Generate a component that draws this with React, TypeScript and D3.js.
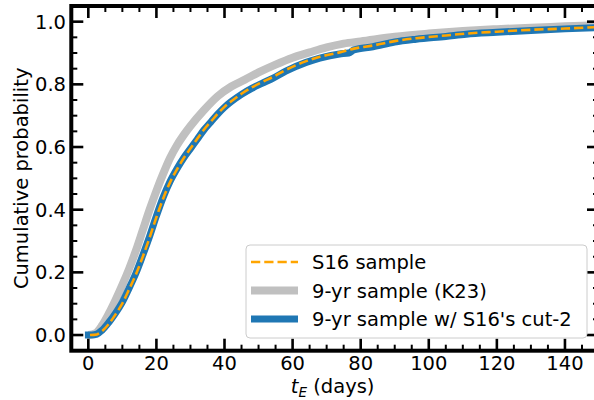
import React from "react";
import * as d3 from "d3";

// K23 9-yr sample (gray)
const grayT = [0, 2, 4, 6, 8, 10, 12, 14, 16, 18, 20, 22, 24, 26, 28, 30, 34, 38, 42, 46, 50, 55, 60, 65, 70, 75, 80, 90, 100, 110, 120, 130, 140, 150];
const grayP = [0, 0.005, 0.03, 0.068, 0.112, 0.16, 0.212, 0.27, 0.335, 0.4, 0.46, 0.515, 0.565, 0.605, 0.638, 0.667, 0.718, 0.762, 0.793, 0.815, 0.838, 0.863, 0.885, 0.902, 0.918, 0.93, 0.937, 0.952, 0.962, 0.97, 0.976, 0.981, 0.985, 0.989];

// 9-yr sample w/ S16's cut-2 (blue)
const blueT = [-1, 1, 2.5, 4, 6, 8, 10, 12, 14, 16, 18, 20, 22, 24, 26, 28, 30, 32, 34, 36, 38, 40, 42, 45, 48, 51, 54.3, 58, 64, 68, 73.8, 76.5, 78, 83.6, 90, 96.3, 105, 111, 120, 130, 140, 150];
const blueP = [0, 0, 0.003, 0.015, 0.04, 0.07, 0.105, 0.15, 0.198, 0.255, 0.315, 0.38, 0.44, 0.49, 0.53, 0.565, 0.595, 0.625, 0.655, 0.68, 0.705, 0.727, 0.745, 0.768, 0.787, 0.803, 0.82, 0.842, 0.87, 0.884, 0.897, 0.9, 0.91, 0.92, 0.935, 0.944, 0.953, 0.96, 0.966, 0.972, 0.977, 0.981];

// S16 sample (orange dashed)
const orangeT = [0.5, 2.5, 4, 6, 8, 10, 12, 14, 16, 18, 20, 22, 24, 26, 28, 30, 32, 34, 36, 38, 40, 42, 45, 48, 51, 54.3, 58, 64, 68, 73.8, 78, 83.6, 90, 96.3, 105, 111, 120, 130, 140, 150];
const orangeP = [0, 0.002, 0.012, 0.035, 0.066, 0.101, 0.146, 0.194, 0.25, 0.311, 0.376, 0.436, 0.487, 0.528, 0.564, 0.595, 0.626, 0.656, 0.681, 0.706, 0.728, 0.746, 0.77, 0.79, 0.807, 0.824, 0.846, 0.874, 0.888, 0.902, 0.914, 0.924, 0.938, 0.947, 0.956, 0.962, 0.968, 0.974, 0.978, 0.983];

const xMajor = [0, 20, 40, 60, 80, 100, 120, 140];
const yMajor = [0, 0.2, 0.4, 0.6, 0.8, 1.0];
const legendLabels = ["S16 sample", "9-yr sample (K23)", "9-yr sample w/ S16's cut-2"];

const W = 594, H = 400;
const x = d3.scaleLinear().domain([-5, 150]).range([71.3, 599]);
const y = d3.scaleLinear().domain([-0.05, 1.05]).range([350.7, 6]);

const FONT = "DejaVu Sans, sans-serif";
const FS = 19.5;

function mkLine(ts: number[], ps: number[]) {
  const pts = ts.map((t, i) => [t, ps[i]] as [number, number]);
  return d3.line<[number, number]>().x(d => x(d[0])).y(d => y(d[1])).curve(d3.curveMonotoneX)(pts) || "";
}

export default function App() {
  const [x0, x1] = x.range();
  const [y0, y1] = y.range();
  const xMinor = d3.range(-5, 151, 5).filter(v => v % 20 !== 0);
  const yMinor = d3.range(-0.05, 1.0501, 0.05).map(v => Math.round(v * 100) / 100).filter(v => Math.round(v * 100) % 20 !== 0);
  const majL = 12, minL = 6;
  const legendRows = [262, 290.5, 319];
  return (
    <svg width={W} height={H} style={{ position: "absolute", left: 0, top: 0, background: "#fff" }} fontFamily={FONT}>
      <defs>
        <clipPath id="plot"><rect x={x0} y={y1} width={x1 - x0} height={y0 - y1} /></clipPath>
      </defs>
      <g clipPath="url(#plot)" fill="none">
        <path d={mkLine(grayT, grayP)} stroke="#c0c0c0" strokeWidth={8} strokeLinejoin="round" />
        <path d={mkLine(blueT, blueP)} stroke="#1f77b4" strokeWidth={7} strokeLinejoin="round" />
        <path d={mkLine(orangeT, orangeP)} stroke="#ffa500" strokeWidth={2.6} strokeDasharray="9.25,4" />
      </g>
      {/* ticks */}
      <g stroke="#000">
        {xMajor.map(v => (
          <g key={"xm" + v} strokeWidth={2.6}>
            <line x1={x(v)} x2={x(v)} y1={y0} y2={y0 - majL} />
            <line x1={x(v)} x2={x(v)} y1={y1} y2={y1 + majL} />
          </g>
        ))}
        {xMinor.map(v => (
          <g key={"xn" + v} strokeWidth={2}>
            <line x1={x(v)} x2={x(v)} y1={y0} y2={y0 - minL} />
            <line x1={x(v)} x2={x(v)} y1={y1} y2={y1 + minL} />
          </g>
        ))}
        {yMajor.map(v => (
          <g key={"ym" + v} strokeWidth={2.6}>
            <line x1={x0} x2={x0 + majL} y1={y(v)} y2={y(v)} />
            <line x1={x1} x2={x1 - majL} y1={y(v)} y2={y(v)} />
          </g>
        ))}
        {yMinor.map(v => (
          <g key={"yn" + v} strokeWidth={2}>
            <line x1={x0} x2={x0 + minL} y1={y(v)} y2={y(v)} />
            <line x1={x1} x2={x1 - minL} y1={y(v)} y2={y(v)} />
          </g>
        ))}
        <rect x={x0} y={y1} width={x1 - x0} height={y0 - y1} fill="none" strokeWidth={4} />
      </g>
      {/* tick labels */}
      <g fontSize={FS} fill="#000">
        {xMajor.map(v => (
          <text key={"xl" + v} x={x(v)} y={370} textAnchor="middle">{v}</text>
        ))}
        {yMajor.map(v => (
          <text key={"yl" + v} x={66} y={y(v) + 7} textAnchor="end">{v.toFixed(1)}</text>
        ))}
      </g>
      <text x={28} y={(y0 + y1) / 2} fontSize={FS} textAnchor="middle" transform={`rotate(-90 28 ${(y0 + y1) / 2})`}>Cumulative probability</text>
      <text x={(x0 + 594) / 2} y={393} fontSize={FS} textAnchor="middle">
        <tspan fontStyle="italic">t</tspan>
        <tspan fontStyle="italic" fontSize={13.5} dy={4}>E</tspan>
        <tspan dy={-4}> (days)</tspan>
      </text>
      {/* legend */}
      <rect x={246} y={245} width={341} height={93} rx={4} fill="#fff" fillOpacity={0.8} stroke="#cccccc" strokeWidth={1} />
      <line x1={251} x2={298} y1={legendRows[0]} y2={legendRows[0]} stroke="#ffa500" strokeWidth={2.6} strokeDasharray="9.25,4" />
      <line x1={251} x2={298} y1={legendRows[1]} y2={legendRows[1]} stroke="#c0c0c0" strokeWidth={8} />
      <line x1={251} x2={298} y1={legendRows[2]} y2={legendRows[2]} stroke="#1f77b4" strokeWidth={7} />
      {legendLabels.map((l, i) => (
        <text key={l} x={312} y={legendRows[i] + 7} fontSize={FS}>{l}</text>
      ))}
    </svg>
  );
}
